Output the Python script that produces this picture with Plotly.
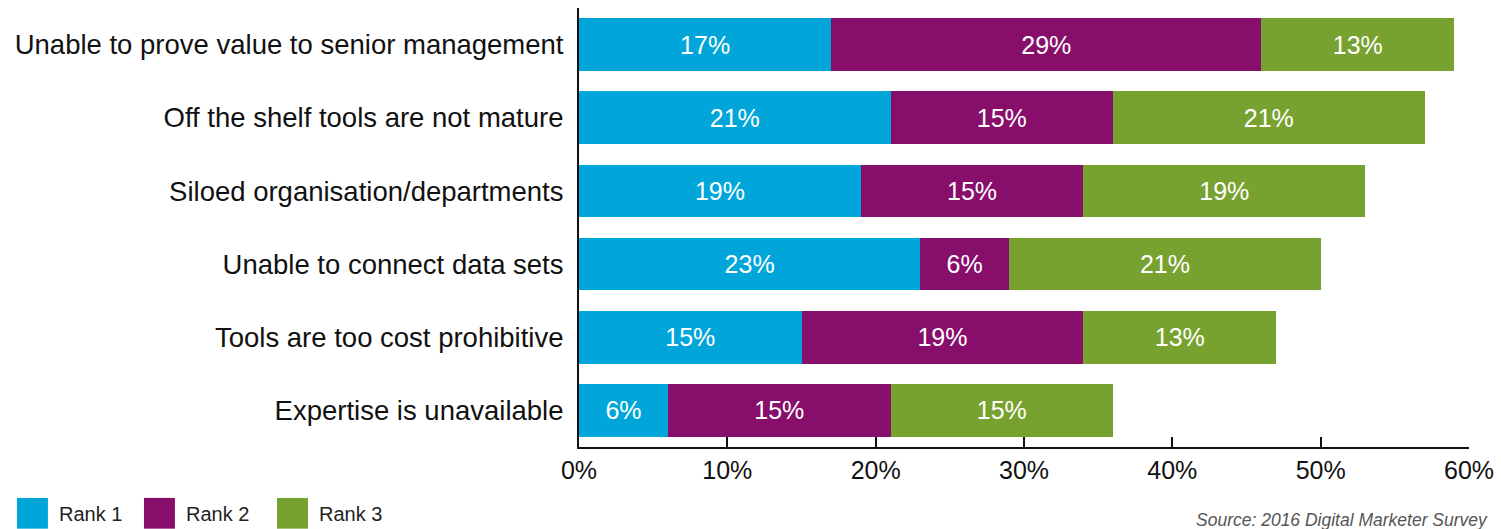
import plotly.graph_objects as go

# Survey data: share of respondents ranking each barrier 1st, 2nd, 3rd
categories = [
    "Unable to prove value to senior management",
    "Off the shelf tools are not mature",
    "Siloed organisation/departments",
    "Unable to connect data sets",
    "Tools are too cost prohibitive",
    "Expertise is unavailable",
]
rank1 = [17, 21, 19, 23, 15, 6]
rank2 = [29, 15, 15, 6, 19, 15]
rank3 = [13, 21, 19, 21, 13, 15]
series_names = ["Rank 1", "Rank 2", "Rank 3"]
colors = ["#00A6D9", "#870E6B", "#78A22F"]
x_ticks = [0, 10, 20, 30, 40, 50, 60]

FONT = "Liberation Sans"

fig = go.Figure()
for name, vals, col in zip(series_names, [rank1, rank2, rank3], colors):
    fig.add_trace(go.Bar(
        y=categories, x=vals, name=name, orientation="h",
        marker=dict(color=col, line=dict(width=0)),
        texttemplate="%{x}%", textposition="inside",
        insidetextanchor="middle", constraintext="none",
        textfont=dict(family=FONT, size=25, color="white"),
        showlegend=False,
    ))

# Legend drawn as swatches with labels below the chart (paper coords
# are relative to the plot area: 890 px wide, 439 px tall)
legend_x = [-0.6315, -0.4888, -0.3393]
for name, col, lx in zip(series_names, colors, legend_x):
    fig.add_shape(type="rect", xref="paper", yref="paper",
                  x0=lx, x1=lx + 0.0348, y0=-0.186, y1=-0.116,
                  fillcolor=col, line=dict(width=0), layer="above")
    fig.add_annotation(text=name, xref="paper", yref="paper",
                       x=lx + 0.045, y=-0.153, xanchor="left", yanchor="middle",
                       showarrow=False,
                       font=dict(family=FONT, size=20, color="#222222"))

fig.add_annotation(text="<i>Source: 2016 Digital Marketer Survey</i>",
                   xref="paper", yref="paper", x=1.0236, y=-0.166,
                   xanchor="right", yanchor="middle", showarrow=False,
                   font=dict(family=FONT, size=17.5, color="#555555"))

fig.update_layout(
    barmode="stack",
    bargap=0.28,
    width=1501, height=529,
    margin=dict(l=579, r=32, t=8, b=82, autoexpand=False),
    paper_bgcolor="white", plot_bgcolor="white",
    xaxis=dict(
        range=[0, 60], tickvals=x_ticks,
        ticktext=[f"{v}%" for v in x_ticks],
        ticks="inside", ticklen=10, tickwidth=2, tickcolor="#111111",
        showline=True, linecolor="#111111", linewidth=2,
        showgrid=False, zeroline=False,
        tickfont=dict(family=FONT, size=25, color="#111111"),
        fixedrange=True,
    ),
    yaxis=dict(
        categoryorder="array", categoryarray=categories[::-1],
        range=[-0.5, 5.5],
        showline=True, linecolor="#111111", linewidth=2,
        ticks="", showgrid=False, zeroline=False,
        ticklabelstandoff=8,
        tickfont=dict(family=FONT, size=27.5, color="#111111"),
        fixedrange=True,
    ),
)

fig.write_html("out.html")
